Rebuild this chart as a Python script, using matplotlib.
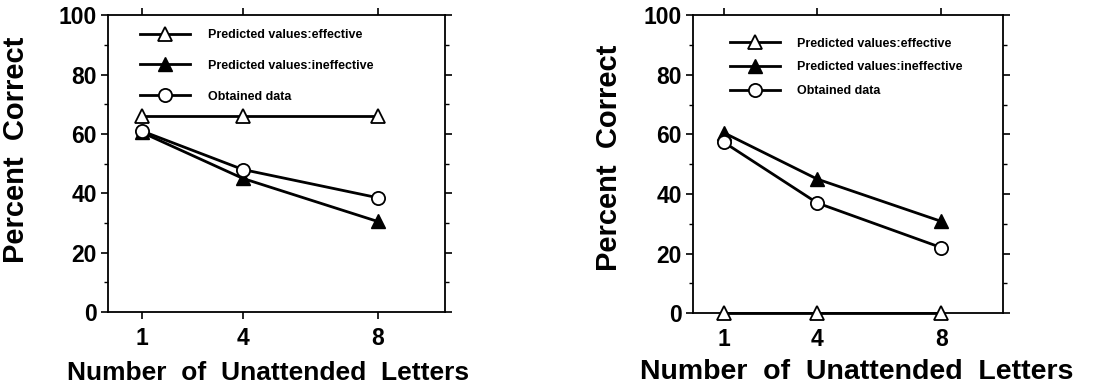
import matplotlib
matplotlib.use("Agg")
import matplotlib.pyplot as plt
from matplotlib.ticker import MultipleLocator

plt.rcParams['font.family'] = ['Liberation Sans', 'DejaVu Sans']
plt.rcParams['font.weight'] = 'bold'

x_vals = [1, 4, 8]
x_ticklabels = ['1', '4', '8']
y_ticks = [0, 20, 40, 60, 80, 100]

labels = ['Predicted values:effective', 'Predicted values:ineffective', 'Obtained data']

left_effective = [66, 66, 66]
left_ineffective = [60.5, 45, 30.5]
left_obtained = [61, 48, 38.5]

right_effective = [0, 0, 0]
right_ineffective = [60.5, 45, 30.8]
right_obtained = [57.3, 37, 22]

fig = plt.figure(figsize=(11.16, 3.89), dpi=100)
axL = fig.add_axes([0.0968, 0.198, 0.302, 0.763])
axR = fig.add_axes([0.621, 0.195, 0.278, 0.766])

def draw(ax, eff, ineff, obt, leg_anchor, leg_spacing, ylab_xy, xlab_xy, xlab_size):
    kw = dict(color='black', lw=2.0, clip_on=False, zorder=3)
    ax.plot(x_vals, eff, marker='^', markersize=10, markerfacecolor='white',
            markeredgecolor='black', markeredgewidth=1.3, label=labels[0], **kw)
    ax.plot(x_vals, ineff, marker='^', markersize=10, markerfacecolor='black',
            markeredgecolor='black', label=labels[1], **kw)
    ax.plot(x_vals, obt, marker='o', markersize=9.5, markerfacecolor='white',
            markeredgecolor='black', markeredgewidth=1.3, label=labels[2], **kw)
    ax.set_xlim(0, 10)
    ax.set_ylim(0, 100)
    ax.set_xticks(x_vals)
    ax.set_xticklabels(x_ticklabels, fontsize=16.5, fontweight='bold')
    ax.set_yticks(y_ticks)
    ax.set_yticklabels([str(v) for v in y_ticks], fontsize=16.5, fontweight='bold')
    ax.yaxis.set_minor_locator(MultipleLocator(10))
    ax.tick_params(axis='both', which='major', direction='out', length=5, width=1.2,
                   top=True, right=True, pad=3)
    ax.tick_params(axis='y', which='minor', direction='out', length=3, width=1.0,
                   right=True)
    ax.tick_params(axis='x', which='major', pad=6)
    for s in ax.spines.values():
        s.set_linewidth(1.3)
    ax.set_xlabel('Number  of  Unattended  Letters', fontsize=xlab_size, fontweight='bold')
    ax.xaxis.set_label_coords(*xlab_xy)
    ax.set_ylabel('Percent  Correct', fontsize=21, fontweight='bold')
    ax.yaxis.set_label_coords(*ylab_xy)
    ax.legend(loc='upper left', bbox_to_anchor=leg_anchor, frameon=False,
              handlelength=4.0, handletextpad=1.4,
              labelspacing=leg_spacing, borderpad=0, borderaxespad=0,
              prop={'weight': 'bold', 'size': 9})

draw(axL, left_effective, left_ineffective, left_obtained, (0.095, 0.953), 1.5,
     (-0.231, 0.545), (0.475, -0.165), 19)
draw(axR, right_effective, right_ineffective, right_obtained, (0.119, 0.925), 0.95,
     (-0.226, 0.52), (0.529, -0.155), 20.5)

fig.savefig('out.png', dpi=100)
